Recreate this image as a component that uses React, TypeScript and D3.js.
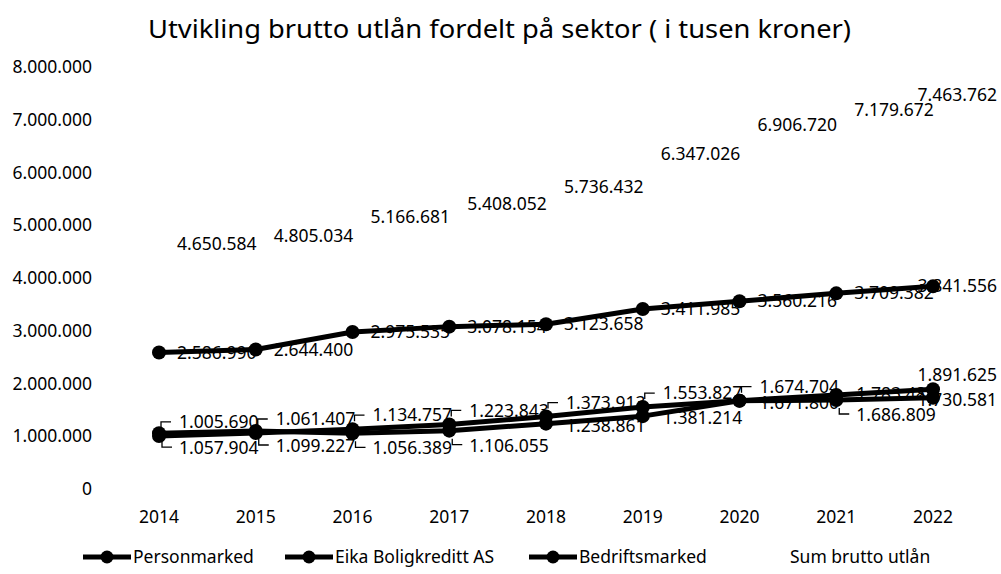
import React from "react";
import * as d3 from "d3";

const years = ["2014", "2015", "2016", "2017", "2018", "2019", "2020", "2021", "2022"];
const personmarked = [2586990, 2644400, 2975535, 3078154, 3123658, 3411985, 3560216, 3709382, 3841556];
const eikaBoligkreditt = [1005690, 1061407, 1134757, 1223843, 1373913, 1553827, 1674704, 1783481, 1891625];
const bedriftsmarked = [1057904, 1099227, 1056389, 1106055, 1238861, 1381214, 1671800, 1686809, 1730581];
const sumBruttoUtlan = [4650584, 4805034, 5166681, 5408052, 5736432, 6347026, 6906720, 7179672, 7463762];
const yTicks = [0, 1000000, 2000000, 3000000, 4000000, 5000000, 6000000, 7000000, 8000000];
const legendNames = ["Personmarked", "Eika Boligkreditt AS", "Bedriftsmarked", "Sum brutto utlån"];
// label placement hints for data labels (as in the source chart)
const eikaLabelAbove = [true, true, true, true, true, true, true, false, true];
const bedriftsLabelBelow = [true, true, true, true, false, false, false, true, false];

const W = 1001;
const H = 574;
const FONT = "'Noto Sans', 'DejaVu Sans', sans-serif";
const FS = 17.5;

const locale = d3.formatLocale({ decimal: ",", thousands: ".", grouping: [3], currency: ["", ""] });
const fmt = locale.format(",d");

export default function App() {
  const x = d3.scalePoint<string>().domain(years).range([159, 933]);
  const y = d3.scaleLinear().domain([0, 8000000]).range([489, 67]);
  const line = d3
    .line<number>()
    .x((_, i) => x(years[i]) as number)
    .y((d) => y(d));

  const lineSeries = [personmarked, eikaBoligkreditt, bedriftsmarked];
  const labelW = 80;
  const rightEdge = 997;

  const rightLabel = (vals: number[], key: string) =>
    vals.map((v, i) => {
      const px = x(years[i]) as number;
      const py = y(v);
      const clamp = px + 18 + labelW > rightEdge;
      return (
        <text
          key={key + i}
          x={clamp ? rightEdge : px + 18}
          y={py}
          dy="0.35em"
          textAnchor={clamp ? "end" : "start"}
        >
          {fmt(v)}
        </text>
      );
    });

  return (
    <svg
      width={W}
      height={H}
      style={{ position: "absolute", left: 0, top: 0, background: "#fff" }}
      fontFamily={FONT}
      fontSize={FS}
      fill="#000"
    >
      <rect width={W} height={H} fill="#fff" />
      <text
        x={499.5}
        y={38}
        textAnchor="middle"
        fontSize={26}
        textLength={703}
        lengthAdjust="spacingAndGlyphs"
      >
        Utvikling brutto utlån fordelt på sektor ( i tusen kroner)
      </text>

      {/* y axis labels */}
      {yTicks.map((t) => (
        <text key={"yt" + t} x={92} y={y(t)} dy="0.35em" textAnchor="end">
          {fmt(t)}
        </text>
      ))}

      {/* x axis labels */}
      {years.map((yr) => (
        <text key={"xt" + yr} x={x(yr) as number} y={517} dy="0.35em" textAnchor="middle">
          {yr}
        </text>
      ))}

      {/* data labels (drawn beneath the lines) */}
      <g>
        {rightLabel(personmarked, "pl")}
        {rightLabel(sumBruttoUtlan, "sl")}
        {eikaBoligkreditt.map((v, i) => {
          const px = x(years[i]) as number;
          const py = y(v);
          const clamp = px + 18 + labelW > rightEdge;
          const above = eikaLabelAbove[i];
          const ly = above ? py - 14 : py - 1;
          return (
            <g key={"el" + i}>
              {!clamp && above && (
                <path
                  d={`M${px + 2},${py - 8}V${py - 14}H${px + 12}`}
                  fill="none"
                  stroke="#000"
                  strokeWidth={1.3}
                />
              )}
              <text
                x={clamp ? rightEdge : px + 20}
                y={ly}
                dy="0.35em"
                textAnchor={clamp ? "end" : "start"}
              >
                {fmt(v)}
              </text>
            </g>
          );
        })}
        {bedriftsmarked.map((v, i) => {
          const px = x(years[i]) as number;
          const py = y(v);
          const clamp = px + 18 + labelW > rightEdge;
          const below = bedriftsLabelBelow[i];
          const ly = below ? py + 15 : py + 2;
          return (
            <g key={"bl" + i}>
              {below && (
                <path
                  d={`M${px + 3},${py + 8}V${py + 14}H${px + 13}`}
                  fill="none"
                  stroke="#000"
                  strokeWidth={1.3}
                />
              )}
              <text
                x={clamp ? rightEdge : px + 20}
                y={ly}
                dy="0.35em"
                textAnchor={clamp ? "end" : "start"}
              >
                {fmt(v)}
              </text>
            </g>
          );
        })}
      </g>

      {/* lines and markers */}
      {lineSeries.map((s, si) => (
        <g key={"ser" + si}>
          <path d={line(s) || ""} fill="none" stroke="#000" strokeWidth={5} strokeLinejoin="round" />
          {s.map((v, i) => (
            <circle key={i} cx={x(years[i]) as number} cy={y(v)} r={7} fill="#000" />
          ))}
        </g>
      ))}

      {/* legend */}
      {legendNames.map((name, i) => {
        const lx = [83, 285, 529, 740][i];
        const ly = 557;
        const visible = i < 3;
        return (
          <g key={"lg" + i}>
            {visible && (
              <>
                <line x1={lx} x2={lx + 48} y1={ly} y2={ly} stroke="#000" strokeWidth={5} />
                <circle cx={lx + 24} cy={ly} r={6.5} fill="#000" />
              </>
            )}
            <text x={lx + 50} y={ly} dy="0.35em">
              {name}
            </text>
          </g>
        );
      })}
    </svg>
  );
}
